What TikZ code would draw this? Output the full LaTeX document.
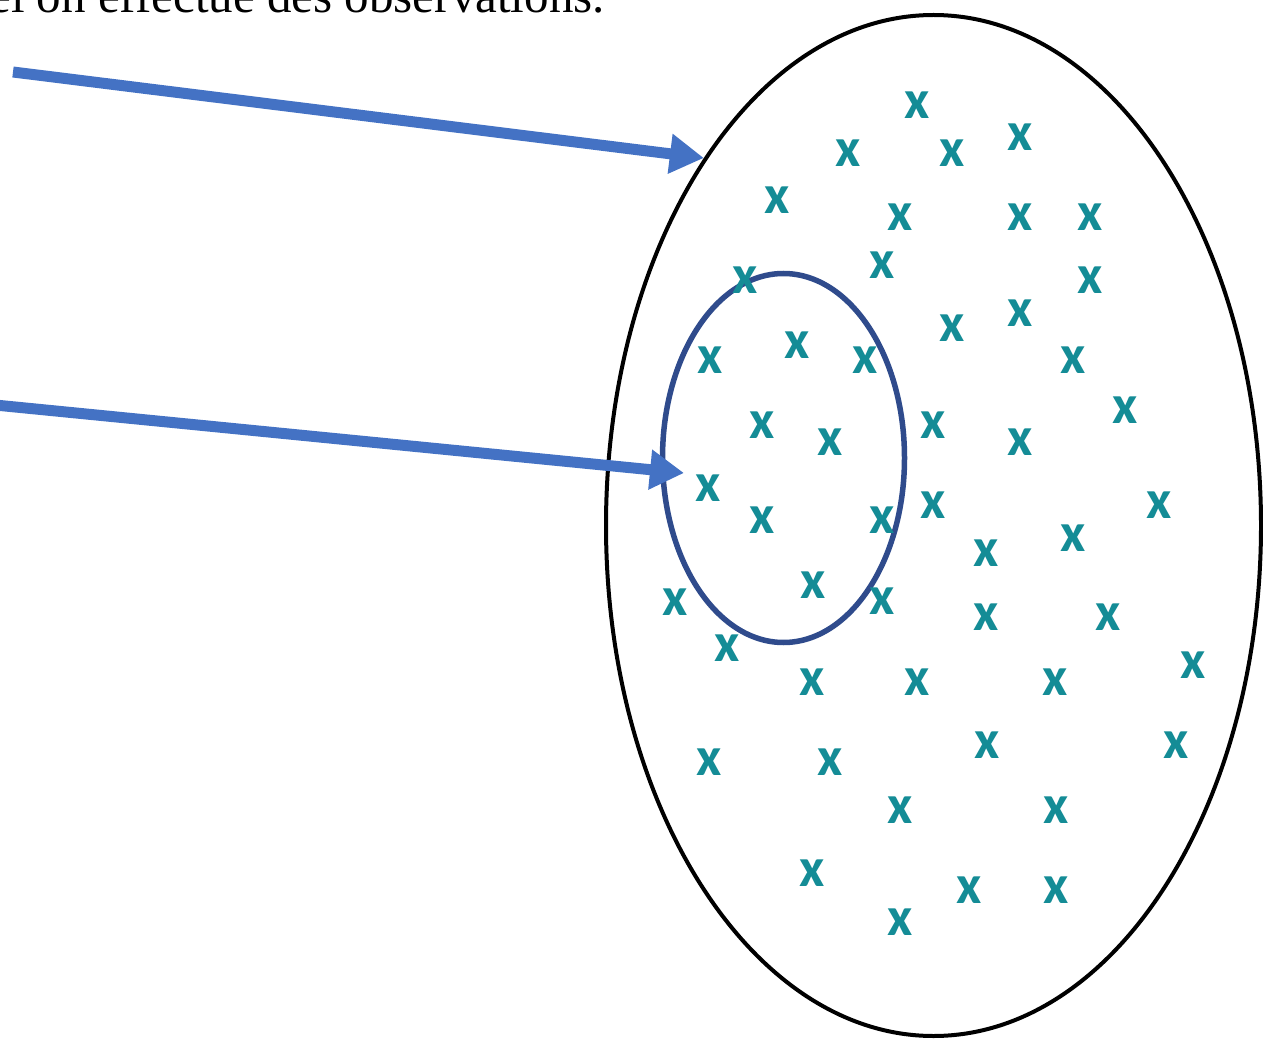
\documentclass[tikz,border=0pt]{standalone}
\usepackage{fontspec}
\setmainfont{Liberation Serif}
\newfontfamily\crossfont{Carlito}
\usetikzlibrary{arrows.meta,shapes.geometric}
\definecolor{arrowblue}{RGB}{68,114,196}
\definecolor{sampleblue}{RGB}{47,75,140}
\definecolor{crossteal}{RGB}{20,140,150}
\tikzset{
  obs/.style={inner sep=0pt, text=crossteal, font=\crossfont\bfseries\fontsize{55}{55}\selectfont},
  pointer/.style={draw=arrowblue, line width=11pt, -{Triangle[length=34pt,width=38pt]}},
}
\begin{document}
\begin{tikzpicture}[x=1pt,y=-1pt]
\useasboundingbox (0,0) rectangle (1263,1040);
\clip (0,0) rectangle (1263,1040);
\fill[white] (0,0) rectangle (1263,1040);
% caption text (cut off at the top)
\node[anchor=base east, inner sep=0pt, font=\fontsize{49}{49}\selectfont] (caption) at (605,13) {auquel on effectue des observations.};
% population
\node[draw=black, line width=4pt, ellipse, minimum width=655pt, minimum height=1021pt, inner sep=0pt] (pop) at (933.5,525.5) {};
% sample
\node[draw=sampleblue, line width=5.5pt, ellipse, minimum width=242pt, minimum height=369pt, inner sep=0pt] (ech) at (783.5,458) {};
% observations
\foreach \i/\p in {1/{917,105},2/{848,153},3/{952,153},4/{1020,137},5/{777,200},6/{900,217},7/{1020,217},8/{1090,217},
  9/{882,265},10/{745,280},11/{1090,280},12/{952,328},13/{1020,313},14/{710,360},15/{797,345},16/{865,360},17/{1073,360},
  18/{1125,410},19/{762,425},20/{830,442},21/{933,425},22/{1020,442},23/{708,488},24/{762,520},25/{882,520},26/{933,505},
  27/{1159,505},28/{986,553},29/{1073,538},30/{675,602},31/{813,585},32/{882,601},33/{986,617},34/{1108,617},35/{727,648},
  36/{812,682},37/{917,682},38/{1055,682},39/{1193,665},40/{709,762},41/{830,762},42/{987,745},43/{1176,745},
  44/{900,810},45/{1056,810},46/{812,873},47/{969,890},48/{1056,890},49/{900,922}}
  {\node[obs] (x\i) at (\p) {x};}
% pointers
\coordinate (s1) at (13,72);
\coordinate (s2) at (-5,405);
\coordinate (t2) at (684,473);
\draw[pointer] (s1) -- (pop.122.2);
\draw[pointer] (s2) -- (t2);
\end{tikzpicture}
\end{document}
